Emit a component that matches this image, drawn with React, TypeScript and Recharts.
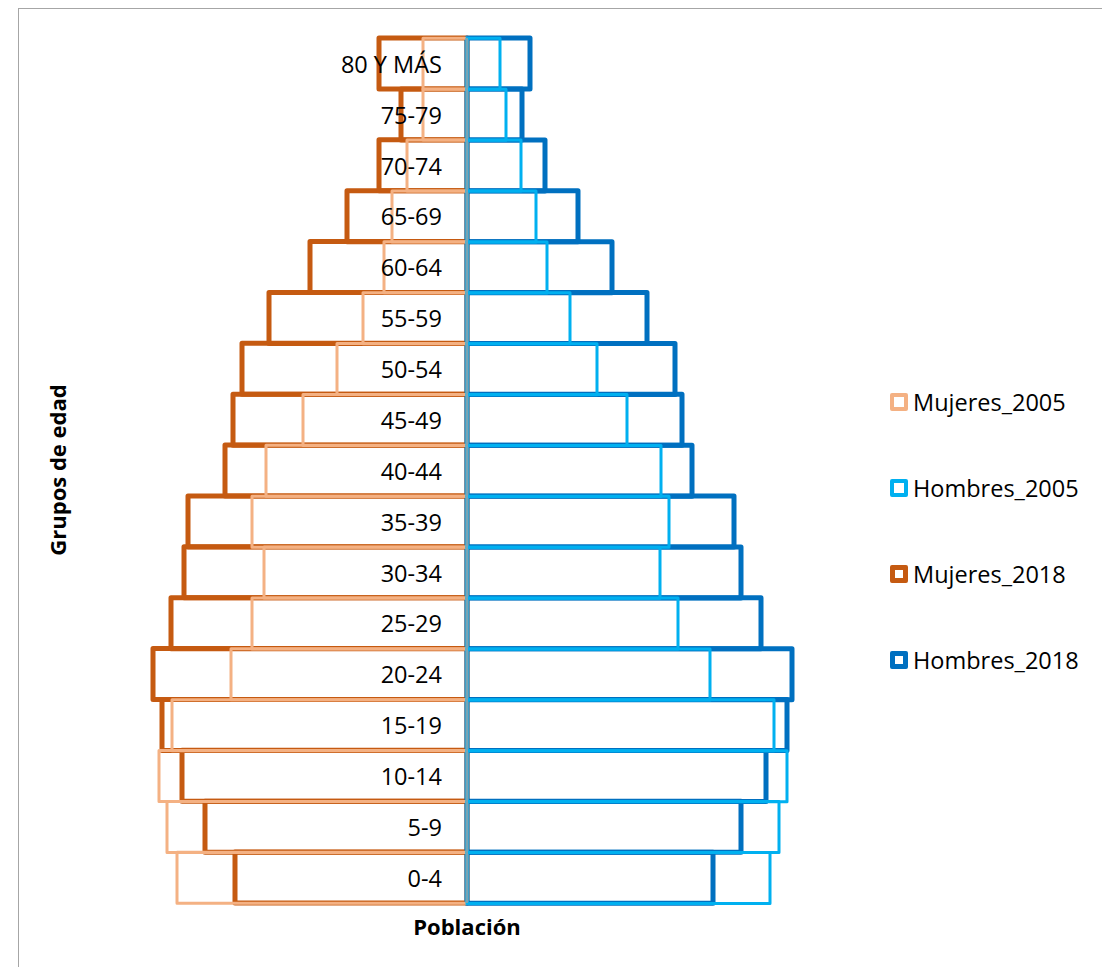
import React from "react";
import { BarChart, Bar, XAxis, YAxis, Legend, ReferenceLine, LabelList } from "recharts";

// grupos de edad, de abajo hacia arriba
const edades = [
  "0-4", "5-9", "10-14", "15-19", "20-24", "25-29", "30-34", "35-39", "40-44",
  "45-49", "50-54", "55-59", "60-64", "65-69", "70-74", "75-79", "80 Y MÁS",
];

const mujeres2005 = [29000, 30000, 30800, 29500, 23600, 21500, 20300, 21500, 20100, 16400, 13000, 10400, 8300, 7500, 6000, 4400, 4400];
const hombres2005 = [30300, 31200, 32000, 30700, 24300, 21100, 19300, 20200, 19400, 16000, 13000, 10300, 8000, 6900, 5400, 3900, 3300];
const mujeres2018 = [23200, 26200, 28500, 30500, 31400, 29600, 28300, 27900, 24200, 23400, 22500, 19800, 15700, 12000, 8800, 6600, 8800];
const hombres2018 = [24600, 27400, 29900, 32000, 32500, 29400, 27400, 26700, 22500, 21500, 20800, 18000, 14500, 11100, 7800, 5500, 6300];

const series = [
  { key: "Mujeres_2005", color: "#F4B183", width: 3, border: 4 },
  { key: "Hombres_2005", color: "#00B0F0", width: 3, border: 4 },
  { key: "Mujeres_2018", color: "#C55A11", width: 5, border: 5 },
  { key: "Hombres_2018", color: "#0070C0", width: 5, border: 5 },
];

const data = edades.map((grupo, i) => ({
  grupo,
  Mujeres_2005: -mujeres2005[i],
  Hombres_2005: hombres2005[i],
  Mujeres_2018: -mujeres2018[i],
  Hombres_2018: hombres2018[i],
}));

const FONT = "'Open Sans', sans-serif";

const renderGrupo = (props: any) => {
  const vb = props.viewBox || props;
  const { x, y, width, height } = vb;
  const zero = Math.max(x, x + width);
  return (
    <text
      x={zero - 25}
      y={y + height / 2}
      textAnchor="end"
      dominantBaseline="central"
      fontSize={23.5}
      fontFamily={FONT}
      fill="#000"
    >
      {props.value}
    </text>
  );
};

const renderLegend = () => (
  <div style={{ fontFamily: FONT, fontSize: 23.5, color: "#000" }}>
    {series.map((s) => (
      <div key={s.key} style={{ display: "flex", alignItems: "center", height: 86 }}>
        <span
          style={{
            width: 18,
            height: 18,
            boxSizing: "border-box",
            border: `${s.border}px solid ${s.color}`,
            borderRadius: 2,
            background: "#fff",
            marginRight: 5,
          }}
        />
        <span>{s.key}</span>
      </div>
    ))}
  </div>
);

const drawOrder = ["Mujeres_2018", "Hombres_2018", "Mujeres_2005", "Hombres_2005"];

export default function App() {
  return (
    <div style={{ position: "fixed", left: 0, top: 0, width: 1102, height: 967, overflow: "hidden", background: "#fff" }}>
      <div
        style={{
          position: "absolute",
          left: 18,
          top: 8,
          width: 1100,
          height: 980,
          border: "1px solid #a6a6a6",
          background: "#fff",
        }}
      >
        <BarChart
          width={1100}
          height={980}
          data={data}
          layout="vertical"
          margin={{ top: 29, right: 302, bottom: 86, left: 98 }}
          barCategoryGap={0}
          barGap="-100%"
        >
          <XAxis type="number" domain={[-35000, 35000]} hide />
          <YAxis type="category" dataKey="grupo" reversed hide />
          <Legend
            layout="vertical"
            align="center"
            verticalAlign="middle"
            content={renderLegend}
            wrapperStyle={{ left: 871, top: 350, width: 225 }}
          />
          {drawOrder.map((k) => {
            const s = series.find((d) => d.key === k)!;
            return (
              <Bar
                key={k}
                dataKey={k}
                name={k}
                fill="none"
                stroke={s.color}
                strokeWidth={s.width}
                strokeLinejoin="round"
                isAnimationActive={false}
              >
                {k === "Mujeres_2005" && <LabelList dataKey="grupo" content={renderGrupo} />}
              </Bar>
            );
          })}
          <ReferenceLine x={0} stroke="#a0a0a0" strokeWidth={1.5} />
        </BarChart>
        <div
          style={{
            position: "absolute",
            left: 448 - 100,
            width: 200,
            top: 902,
            textAlign: "center",
            fontFamily: FONT,
            fontWeight: 700,
            fontSize: 22,
            color: "#000",
          }}
        >
          Población
        </div>
        <div
          style={{
            position: "absolute",
            left: 38 - 100,
            top: 462 - 16,
            width: 200,
            textAlign: "center",
            transform: "rotate(-90deg)",
            fontFamily: FONT,
            fontWeight: 700,
            fontSize: 22,
            color: "#000",
          }}
        >
          Grupos de edad
        </div>
      </div>
    </div>
  );
}
